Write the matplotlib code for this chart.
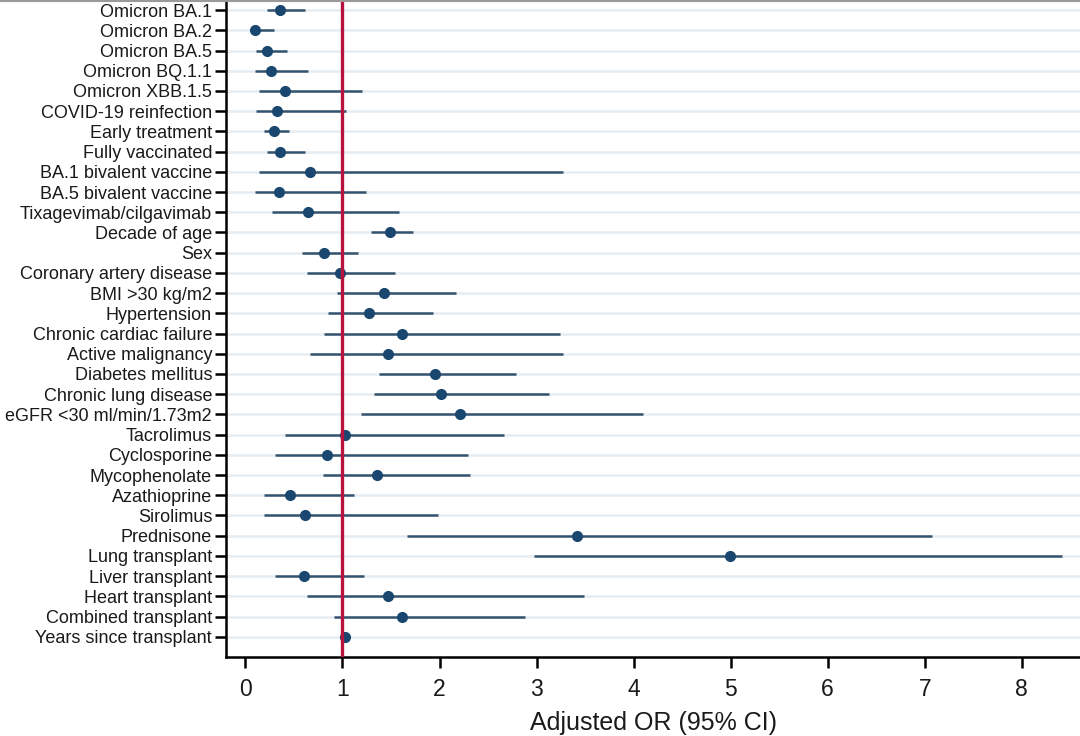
import matplotlib.pyplot as plt

plt.rcParams['font.family'] = ['Liberation Sans', 'DejaVu Sans']

# Odds ratios and 95% CI
labels = [
    "Omicron BA.1", "Omicron BA.2", "Omicron BA.5", "Omicron BQ.1.1",
    "Omicron XBB.1.5", "COVID-19 reinfection", "Early treatment",
    "Fully vaccinated", "BA.1 bivalent vaccine", "BA.5 bivalent vaccine",
    "Tixagevimab/cilgavimab", "Decade of age", "Sex",
    "Coronary artery disease", "BMI >30 kg/m2", "Hypertension",
    "Chronic cardiac failure", "Active malignancy", "Diabetes mellitus",
    "Chronic lung disease", "eGFR <30 ml/min/1.73m2", "Tacrolimus",
    "Cyclosporine", "Mycophenolate", "Azathioprine", "Sirolimus",
    "Prednisone", "Lung transplant", "Liver transplant", "Heart transplant",
    "Combined transplant", "Years since transplant",
]
odds = [0.36, 0.10, 0.22, 0.26, 0.41, 0.33, 0.29, 0.36, 0.67, 0.35,
        0.65, 1.49, 0.81, 0.97, 1.43, 1.27, 1.61, 1.47, 1.95, 2.02,
        2.21, 1.03, 0.84, 1.36, 0.46, 0.61, 3.42, 4.99, 0.60, 1.47,
        1.61, 1.03]
ci_low = [0.22, 0.05, 0.11, 0.10, 0.14, 0.11, 0.19, 0.22, 0.14, 0.10,
          0.27, 1.29, 0.58, 0.63, 0.94, 0.85, 0.81, 0.67, 1.38, 1.32,
          1.19, 0.41, 0.31, 0.80, 0.19, 0.19, 1.66, 2.97, 0.30, 0.63,
          0.91, 1.01]
ci_high = [0.61, 0.29, 0.43, 0.65, 1.20, 1.04, 0.45, 0.61, 3.27, 1.24,
           1.58, 1.73, 1.16, 1.54, 2.17, 1.93, 3.24, 3.27, 2.79, 3.13,
           4.10, 2.66, 2.29, 2.31, 1.12, 1.98, 7.07, 8.41, 1.22, 3.49,
           2.88, 1.05]

dot_color = '#1a476f'
line_color = '#34536f'

fig = plt.figure(figsize=(10.8, 7.36), dpi=100)
ax = fig.add_axes([226 / 1080, 1 - 657 / 736, 1 - 226 / 1080, 657 / 736])

rows = list(range(len(labels)))

# light horizontal guide lines
for r in rows:
    ax.axhline(r, color='#e6edf2', lw=1.8, zorder=0)

ax.hlines(rows, ci_low, ci_high, color=line_color, lw=1.8, zorder=2)
ax.plot(odds, rows, 'o', color=dot_color, ms=7, zorder=3)
ax.axvline(1, color='#b8123e', lw=2.4, zorder=4)

ax.set_ylim(32, -0.5)
ax.set_xlim(-0.2, 8.6)
ax.set_yticks(rows)
ax.set_yticklabels(labels, fontsize=13, color='#1a1a1a')
ax.set_xticks(range(0, 9))
ax.tick_params(axis='x', labelsize=16.5, length=8, width=1.8, pad=7,
               labelcolor='#1a1a1a')
ax.tick_params(axis='y', length=8, width=1.8, pad=2)
ax.set_xlabel("Adjusted OR (95% CI)", fontsize=18, labelpad=7, color='#1a1a1a')

for side in ['top', 'right']:
    ax.spines[side].set_visible(False)
for side in ['left', 'bottom']:
    ax.spines[side].set_linewidth(1.8)

# thin grey border at the top edge of the screenshot
fig.add_artist(plt.Line2D([0, 1], [0.999, 0.999], color='#9a9a9a', lw=1.5))

plt.savefig("out.png", dpi=100)
